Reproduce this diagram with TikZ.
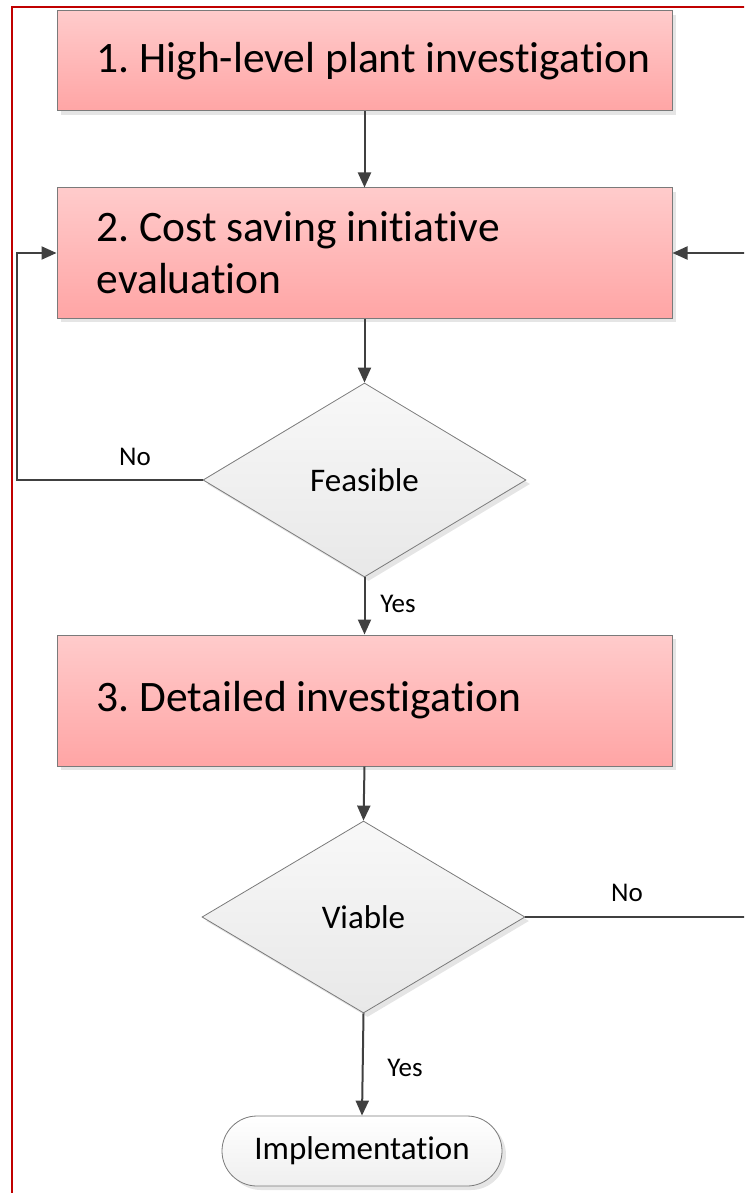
\documentclass[tikz,border=0pt]{standalone}
\usepackage{fontspec}
\setmainfont{Carlito}[RawFeature={-liga;-clig;-dlig;-calt;-rlig}]
\frenchspacing
\usetikzlibrary{shapes.geometric,shapes.misc,shadows,arrows.meta}
% a zero kern that keeps "t" and "i" as separate glyphs
\newcommand{\nolg}{\kern0pt }
\definecolor{framered}{HTML}{C00000}
\definecolor{pinktop}{HTML}{FFCBCB}
\definecolor{pinkbot}{HTML}{FFA5A5}
\definecolor{edgegrey}{HTML}{7A7A7A}
\definecolor{greytop}{HTML}{F8F8F8}
\definecolor{greybot}{HTML}{E8E8E8}
\definecolor{wiregrey}{HTML}{404040}
\tikzset{
  softshadow/.style={drop shadow={shadow xshift=4pt, shadow yshift=-4pt, fill=black!10, opacity=1}},
  stepbox/.style={rectangle, draw=edgegrey, line width=1pt, top color=pinktop, bottom color=pinkbot,
    minimum width=615pt, inner sep=0pt, softshadow},
  steptext/.style={anchor=west, inner sep=0pt, align=left, font=\fontsize{43.5}{52}\selectfont},
  decision/.style={diamond, draw=edgegrey, line width=0.8pt, top color=greytop, bottom color=greybot,
    minimum width=323pt, minimum height=194pt, inner sep=0pt, font=\fontsize{33}{40}\selectfont, softshadow},
  terminal/.style={rounded rectangle, draw=edgegrey, line width=0.8pt, top color=white, bottom color=greybot!70,
    minimum width=280pt, minimum height=70pt, inner sep=0pt, font=\fontsize{33}{40}\selectfont, softshadow},
  flow/.style={draw=wiregrey, line width=2pt, -{Triangle[length=15pt,width=13pt]}},
  lbl/.style={font=\fontsize{27}{32}\selectfont, inner sep=0pt}
}
\begin{document}
\begin{tikzpicture}[x=1pt,y=-1pt]
\useasboundingbox (0,0) rectangle (744,1193);
\clip (0,0) rectangle (744,1193);

% outer frame
\draw[framered, line width=2pt] (12,1210) -- (12,7) -- (760,7);

% process steps and decisions
\node[stepbox, minimum height=100pt] (b1) at (364.5,61) {};
\node[steptext] (t1) at ([xshift=40pt]b1.west) {1. High-level plant invest\nolg iga\nolg t\nolg ion};
\node[stepbox, minimum height=130pt] (b2) at (364.5,253) {};
\node[steptext] (t2) at ([xshift=40pt]b2.west) {2. Cost saving init\nolg iat\nolg ive\\evaluat\nolg ion};
\node[decision] (f) at (364.5,480) {Feasible};
\node[stepbox, minimum height=131pt] (b3) at (364.5,700.5) {};
\node[steptext] (t3) at ([xshift=40pt]b3.west) {3. Detailed invest\nolg igat\nolg ion};
\node[decision, minimum height=192pt] (v) at (363.5,917) {Viable};
\node[terminal] (impl) at (362,1151) {Implementat\nolg ion};

% helper coordinates for the loop-back routes
\coordinate (lx) at (17,0);
\coordinate (rx) at (770,0);

% connectors
\draw[flow] (b1.south) -- (b2.north);
\draw[flow] (b2.south) -- (f.north);
\draw[flow] (f.west) -- (f.west -| lx) |- (b2.west);
\draw[flow] (f.south) -- (b3.north);
\draw[flow] (b3.south) -- (v.north);
\draw[flow] (v.east) -- (v.east -| rx) |- (b2.east);
\draw[flow] (v.south) -- (impl.north);

% connector labels
\node[lbl] (no1) at (135,457) {No};
\node[lbl] (yes1) at (398,604) {Yes};
\node[lbl] (no2) at (627,893) {No};
\node[lbl] (yes2) at (405,1068) {Yes};
\end{tikzpicture}
\end{document}
